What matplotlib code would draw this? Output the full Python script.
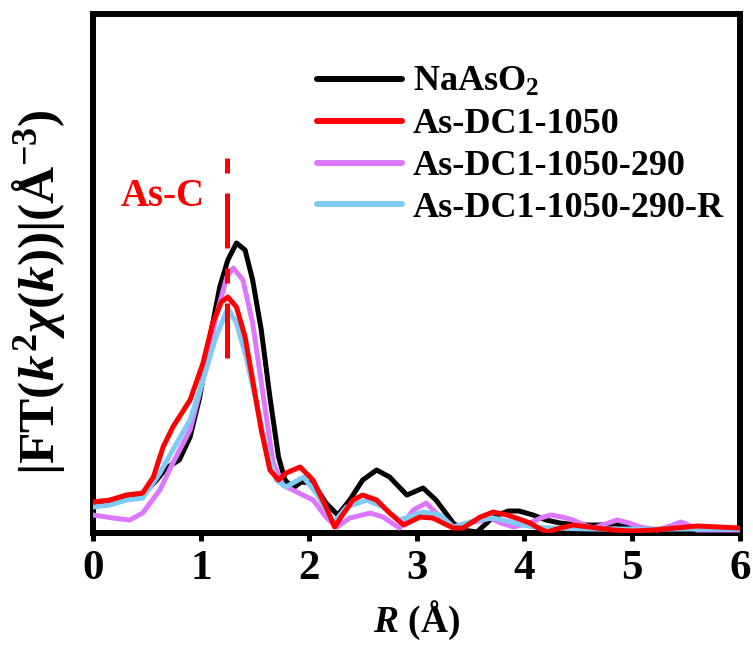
import numpy as np
import matplotlib
matplotlib.use("Agg")
import matplotlib.pyplot as plt

plt.rcParams['font.family'] = ['Liberation Serif', 'DejaVu Serif']
plt.rcParams['font.weight'] = 'bold'
plt.rcParams['mathtext.fontset'] = 'custom'
plt.rcParams['mathtext.rm'] = 'Liberation Serif:bold'
plt.rcParams['mathtext.it'] = 'Liberation Serif:italic:bold'
plt.rcParams['mathtext.bf'] = 'Liberation Serif:bold'

# R (Angstrom) and |FT| magnitude (arb. units) for each sample
r_naaso2 = [0.00, 0.155, 0.31, 0.46, 0.59, 0.68, 0.80, 0.90, 0.99, 1.08, 1.175, 1.25,
            1.33, 1.41, 1.48, 1.56, 1.64, 1.72, 1.78, 1.855, 1.93, 2.04, 2.16, 2.27,
            2.38, 2.50, 2.63, 2.75, 2.91, 3.06, 3.18, 3.34, 3.43, 3.56, 3.68, 3.75,
            3.85, 3.95, 4.08, 4.20, 4.33, 4.50, 4.70, 4.85, 5.00, 5.14, 5.45, 5.80, 6.00]
ft_naaso2 = [0.28, 0.31, 0.36, 0.38, 0.53, 0.65, 0.73, 0.96, 1.36, 1.93, 2.46, 2.73,
             2.90, 2.83, 2.53, 2.03, 1.36, 0.76, 0.53, 0.45, 0.51, 0.50, 0.30, 0.18,
             0.33, 0.53, 0.63, 0.56, 0.38, 0.45, 0.33, 0.10, 0.03, 0.01, 0.13, 0.18,
             0.22, 0.22, 0.18, 0.13, 0.10, 0.08, 0.08, 0.09, 0.05, 0.02, 0.01, 0.02, 0.02]

r_dc1 = [0.00, 0.155, 0.31, 0.46, 0.56, 0.65, 0.74, 0.90, 1.02, 1.11, 1.19, 1.25,
         1.33, 1.41, 1.48, 1.56, 1.64, 1.72, 1.79, 1.92, 2.04, 2.16, 2.24, 2.30,
         2.41, 2.50, 2.63, 2.75, 2.88, 3.03, 3.15, 3.34, 3.43, 3.59, 3.71, 3.84,
         3.95, 4.05, 4.13, 4.21, 4.33, 4.45, 4.60, 4.82, 5.00, 5.19, 5.40, 5.60,
         5.80, 6.00]
ft_dc1 = [0.31, 0.33, 0.38, 0.40, 0.56, 0.86, 1.06, 1.33, 1.70, 2.10, 2.31, 2.36,
          2.26, 1.96, 1.53, 1.03, 0.63, 0.53, 0.60, 0.66, 0.53, 0.26, 0.06, 0.16,
          0.33, 0.38, 0.33, 0.20, 0.08, 0.16, 0.15, 0.05, 0.05, 0.16, 0.21, 0.18,
          0.14, 0.10, 0.05, 0.01, 0.05, 0.08, 0.06, 0.03, 0.02, 0.03, 0.05, 0.07,
          0.06, 0.05]

r_dc1_290 = [0.00, 0.19, 0.34, 0.46, 0.62, 0.74, 0.90, 1.02, 1.14, 1.24, 1.30, 1.39,
             1.48, 1.58, 1.67, 1.76, 1.89, 2.04, 2.16, 2.26, 2.38, 2.57, 2.69, 2.84,
             2.97, 3.09, 3.22, 3.34, 3.49, 3.62, 3.68, 3.78, 3.90, 4.05, 4.15, 4.24,
             4.35, 4.45, 4.55, 4.64, 4.75, 4.86, 4.97, 5.07, 5.23, 5.35, 5.45, 5.52,
             5.60, 5.80, 6.00]
ft_dc1_290 = [0.18, 0.15, 0.13, 0.20, 0.43, 0.70, 1.03, 1.53, 2.16, 2.56, 2.65, 2.53,
              2.10, 1.36, 0.70, 0.48, 0.41, 0.33, 0.16, 0.06, 0.15, 0.20, 0.16, 0.05,
              0.23, 0.30, 0.16, 0.06, 0.10, 0.13, 0.15, 0.10, 0.06, 0.10, 0.15, 0.18,
              0.16, 0.13, 0.08, 0.05, 0.09, 0.13, 0.10, 0.06, 0.03, 0.07, 0.11, 0.08,
              0.03, 0.03, 0.03]

r_dc1_290r = [0.00, 0.155, 0.31, 0.46, 0.62, 0.74, 0.90, 1.02, 1.14, 1.25, 1.33, 1.42,
              1.515, 1.61, 1.70, 1.79, 1.95, 2.07, 2.23, 2.35, 2.54, 2.69, 2.84, 3.06,
              3.22, 3.34, 3.56, 3.71, 3.80, 3.95, 4.08, 4.27, 4.60, 5.00, 5.50, 6.00]
ft_dc1_290r = [0.26, 0.28, 0.33, 0.35, 0.60, 0.83, 1.13, 1.53, 1.96, 2.25, 2.10, 1.76,
               1.30, 0.83, 0.53, 0.46, 0.56, 0.40, 0.10, 0.26, 0.33, 0.26, 0.13, 0.21,
               0.18, 0.06, 0.13, 0.15, 0.13, 0.09, 0.06, 0.05, 0.04, 0.04, 0.04, 0.04]

labels = ['NaAsO$_{\\mathrm{2}}$', 'As-DC1-1050', 'As-DC1-1050-290', 'As-DC1-1050-290-R']
colors = ['black', '#ff0000', '#dd77ff', '#80cbf5']
peak_r = 1.24

fig = plt.figure(figsize=(7.53, 6.57), dpi=100)
ax = fig.add_axes([0.1235, 0.1887, 0.8595, 0.79])

lw = 3.6
style = dict(lw=lw, solid_joinstyle='round', solid_capstyle='round')
h_black, = ax.plot(r_naaso2, ft_naaso2, color=colors[0], zorder=2, **style)
h_purple, = ax.plot(r_dc1_290, ft_dc1_290, color=colors[2], zorder=3, **style)
h_blue, = ax.plot(r_dc1_290r, ft_dc1_290r, color=colors[3], zorder=4, **style)
h_red, = ax.plot(r_dc1, ft_dc1, color=colors[1], zorder=5, **style)

# As-C coordination marker
ax.plot([peak_r, peak_r], [1.75, 3.78], color='#ff0000', lw=3.6,
        linestyle=(0, (11, 4, 3, 4)), zorder=6)
ax.text(peak_r - 0.2, 3.37, 'As-C', color='#ff0000', fontsize=28,
        fontweight='bold', ha='right', va='center')

ax.set_xlim(0, 6)
ax.set_ylim(0, 5.19)
ax.set_xticks(range(7))
ax.set_yticks([])
ax.tick_params(axis='x', direction='out', length=6, width=3.6, labelsize=31, pad=6)
for s in ax.spines.values():
    s.set_linewidth(4.3)

ax.set_xlabel('$R\\ \\mathrm{(Å)}$', fontsize=27, labelpad=8)
ax.set_ylabel('$|\\mathrm{FT}(k^2\\chi(k))|(\\mathrm{Å}^{-3})$', fontsize=37)
ax.yaxis.set_label_coords(-0.04, 0.464)

leg = ax.legend([h_black, h_red, h_purple, h_blue], labels,
                loc='upper left', bbox_to_anchor=(317 / 753, 1 - 66 / 657),
                bbox_transform=fig.transFigure, frameon=False, fontsize=26,
                handlelength=2.36, handletextpad=0.3, labelspacing=0.24,
                borderpad=0, borderaxespad=0)
for line in leg.get_lines():
    line.set_linewidth(4.3)

fig.savefig('out.png', dpi=100)
